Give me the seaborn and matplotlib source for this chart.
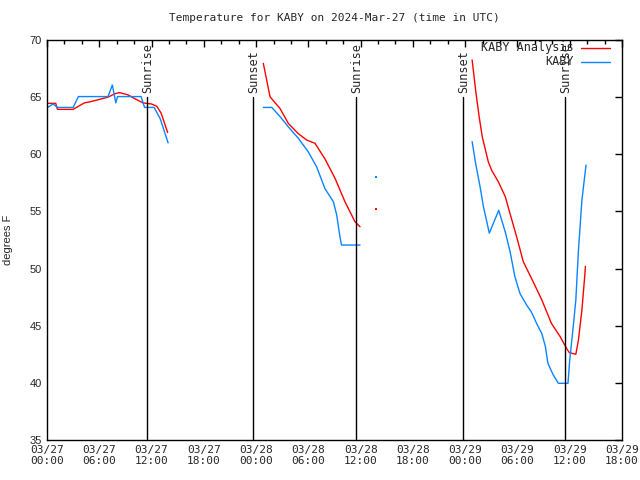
import matplotlib
matplotlib.use("Agg")
import matplotlib.pyplot as plt
import seaborn as sns
import pandas as pd
from matplotlib.lines import Line2D

sns.set_style("white")
plt.rcParams['font.family'] = ['DejaVu Sans Mono', 'DejaVu Sans']

# hours since 2024-03-27 00:00 UTC
ana_h1 = [0, 1, 1.2, 3.0, 3.3, 4.3, 5.0, 6.0, 7.0, 7.8, 8.3, 9.3, 10.0, 11.0, 12.0, 12.6, 13.1, 13.85]
ana_t1 = [64.46, 64.46, 63.93, 63.93, 64.07, 64.5, 64.6, 64.8, 65.0, 65.3, 65.4, 65.2, 64.9, 64.5, 64.4, 64.2, 63.6, 61.9]
ana_h2 = [24.83, 25.6, 26.75, 27.7, 28.85, 29.8, 30.76, 31.9, 33.06, 34.2, 35.35, 35.93]
ana_t2 = [67.96, 65.03, 64.0, 62.7, 61.8, 61.25, 60.96, 59.6, 57.9, 55.85, 54.1, 53.66]
ana_h3 = [48.8, 49.2, 49.6, 49.97, 50.65, 51.04, 51.8, 52.6, 53.15, 53.9, 54.67, 55.8, 56.8, 57.9, 58.9, 59.65, 59.96, 60.7, 61.0, 61.4, 61.75, 61.8]
ana_t3 = [68.25, 65.6, 63.3, 61.5, 59.35, 58.6, 57.6, 56.3, 54.8, 52.8, 50.6, 48.85, 47.25, 45.2, 44.05, 43.0, 42.64, 42.5, 43.75, 46.4, 49.6, 50.2]
ana_dot_h = [37.8]
ana_dot_t = [55.2]

obs_h1 = [0, 0.7, 1.2, 3.0, 3.6, 7.0, 7.5, 7.9, 8.1, 10.8, 11.2, 12.3, 13.0, 13.9]
obs_t1 = [64.07, 64.4, 64.1, 64.1, 65.05, 65.05, 66.06, 64.5, 65.05, 65.05, 64.1, 64.1, 63.1, 61.0]
obs_h2 = [24.83, 25.8, 26.75, 27.7, 28.85, 30.0, 30.95, 31.9, 32.87, 33.25, 33.6, 33.8, 35.93]
obs_t2 = [64.1, 64.1, 63.3, 62.4, 61.4, 60.2, 58.9, 57.0, 55.85, 54.7, 52.9, 52.06, 52.06]
obs_h3 = [48.8, 49.2, 49.7, 50.1, 50.77, 51.85, 52.6, 53.15, 53.7, 54.3, 55.06, 55.6, 56.2, 56.8, 57.2, 57.5, 58.1, 58.7, 59.8, 60.0, 60.4, 60.7, 61.0, 61.4, 61.87]
obs_t3 = [61.1, 59.2, 57.2, 55.4, 53.1, 55.1, 53.2, 51.5, 49.3, 47.8, 46.8, 46.2, 45.2, 44.3, 43.2, 41.7, 40.7, 39.96, 39.96, 42.0, 44.9, 47.25, 51.6, 56.0, 59.06]
obs_dot_h = [37.8]
obs_dot_t = [58.0]

event_h = [11.51, 23.68, 35.5, 47.78, 59.49]
event_lbl = ["Sunrise", "Sunset", "Sunrise", "Sunset", "Sunrise"]

xtick_labels = ["03/27\n00:00", "03/27\n06:00", "03/27\n12:00", "03/27\n18:00",
                "03/28\n00:00", "03/28\n06:00", "03/28\n12:00", "03/28\n18:00",
                "03/29\n00:00", "03/29\n06:00", "03/29\n12:00", "03/29\n18:00"]

RED = "#ff0000"
BLUE = "#0a84ff"

fig = plt.figure(figsize=(6.4, 4.8), dpi=100)
ax = fig.add_axes([47/640, 40/480, 575/640, 400/480])

for h, t in [(ana_h1, ana_t1), (ana_h2, ana_t2), (ana_h3, ana_t3)]:
    sns.lineplot(x=h, y=t, ax=ax, color=RED, lw=1, sort=False, estimator=None)
for h, t in [(obs_h1, obs_t1), (obs_h2, obs_t2), (obs_h3, obs_t3)]:
    sns.lineplot(x=h, y=t, ax=ax, color=BLUE, lw=1, sort=False, estimator=None)
sns.scatterplot(x=ana_dot_h, y=ana_dot_t, ax=ax, color=RED, s=3, marker='s', linewidth=0)
sns.scatterplot(x=obs_dot_h, y=obs_dot_t, ax=ax, color=BLUE, s=3, marker='s', linewidth=0)

for h, lbl in zip(event_h, event_lbl):
    ax.plot([h, h], [35, 65], color='black', lw=1)
    ax.text(h, 65.4, lbl, rotation=90, ha='center', va='bottom', fontsize=8.5)

ax.set_xlim(0, 66)
ax.set_ylim(35, 70)
ax.set_xticks(range(0, 67, 6))
ax.set_xticklabels(xtick_labels, fontsize=8)
ax.set_xticks(range(0, 67, 2), minor=True)
ax.set_yticks(range(35, 71, 5))
ax.set_yticklabels([str(v) for v in range(35, 71, 5)], fontsize=8,
                   family=['Liberation Sans', 'DejaVu Sans'])
ax.tick_params(which='both', direction='in', top=True, right=True, length=5, width=1, color='black')
ax.tick_params(which='minor', length=3)
for s in ax.spines.values():
    s.set_color('black')
    s.set_linewidth(1)

ax.set_ylabel("degrees F", fontsize=8, family=['Liberation Sans', 'DejaVu Sans'], labelpad=12)
ax.set_title("Temperature for KABY on 2024-Mar-27 (time in UTC)", fontsize=8, pad=14)

# legend
ax.text(0.9165, 0.98, "KABY Analysis", transform=ax.transAxes, ha='right', va='center', fontsize=8.5)
ax.add_line(Line2D([0.929, 0.979], [0.98, 0.98], transform=ax.transAxes, color=RED, lw=1))
ax.text(0.9165, 0.945, "KABY", transform=ax.transAxes, ha='right', va='center', fontsize=8.5)
ax.add_line(Line2D([0.929, 0.979], [0.945, 0.945], transform=ax.transAxes, color=BLUE, lw=1))

fig.savefig("out.png", dpi=100)
